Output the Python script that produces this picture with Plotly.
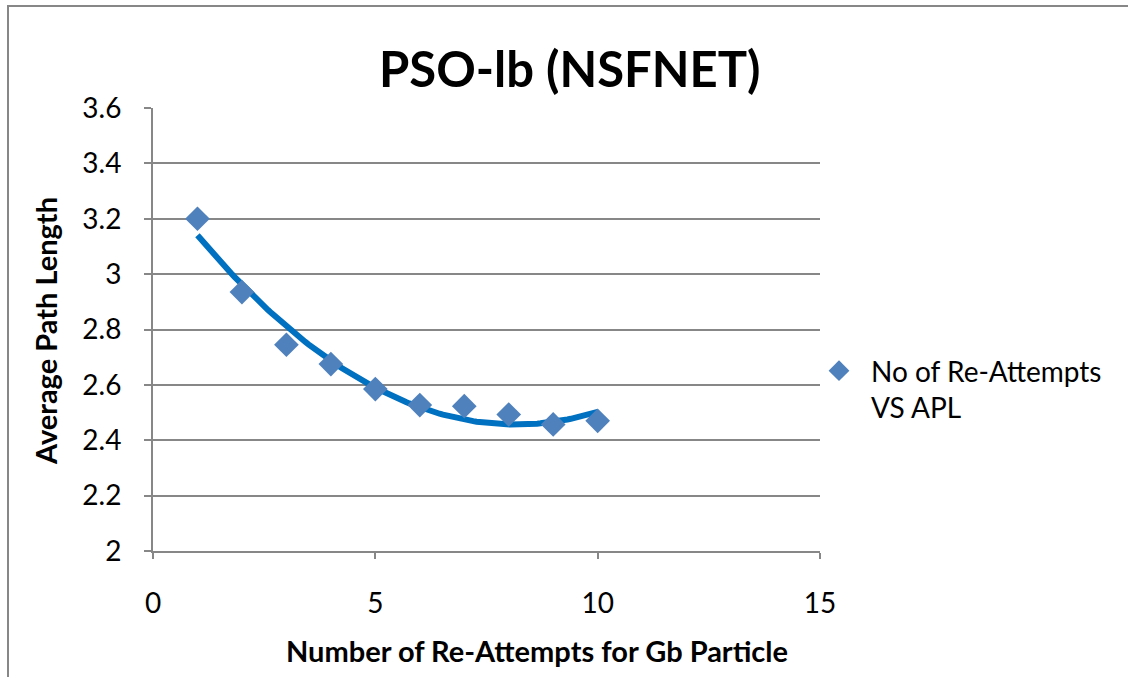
import numpy as np
import plotly.graph_objects as go

# Number of re-attempts for the Gb particle vs average path length
attempts = [1, 2, 3, 4, 5, 6, 7, 8, 9, 10]
avg_path_length = [3.20, 2.935, 2.745, 2.675, 2.585, 2.527, 2.523, 2.493, 2.457, 2.470]

series_name = "No of Re-Attempts<br>VS APL"
chart_title = "PSO-lb (NSFNET)"
x_title = "Number of Re-Attempts for Gb Particle"
y_title = "Average Path Length"

x_ticks = [0, 5, 10, 15]
y_ticks = [2, 2.2, 2.4, 2.6, 2.8, 3, 3.2, 3.4, 3.6]

# second-order polynomial trendline through the measured points
coef = np.polyfit(attempts, avg_path_length, 2)
trend_x = np.linspace(attempts[0], attempts[-1], 120)
trend_y = np.polyval(coef, trend_x)

FONT = "Lato"
GRID = "#878787"
W, H = 1128, 677
L, R, T, B = 153, 820, 108, 551  # plot-area pixel edges


def px(x):
    return (x - L) / (R - L)


def py(y):
    return (B - y) / (B - T)


fig = go.Figure()
fig.add_trace(go.Scatter(
    x=trend_x, y=trend_y, mode="lines",
    line=dict(color="#0070C0", width=6),
    showlegend=False, hoverinfo="skip",
))
fig.add_trace(go.Scatter(
    x=attempts, y=avg_path_length, mode="markers", name=series_name,
    marker=dict(symbol="diamond", size=19, color="#4F81BD"),
))

fig.update_layout(
    width=W, height=H,
    margin=dict(l=L, r=W - R, t=T, b=H - B),
    paper_bgcolor="white", plot_bgcolor="white",
    font=dict(family=FONT, color="black", size=28),
    showlegend=True,
    legend=dict(
        x=px(807), y=py(346), xanchor="left", yanchor="top",
        font=dict(size=28, family=FONT), bgcolor="rgba(0,0,0,0)",
        itemwidth=54, valign="top",
    ),
    xaxis=dict(
        range=[0, 15], tickvals=x_ticks, showgrid=False, zeroline=False,
        showline=True, linecolor=GRID, linewidth=2,
        ticks="outside", ticklen=6, tickwidth=2, tickcolor=GRID,
        ticklabelstandoff=20, tickfont=dict(size=28),
    ),
    yaxis=dict(
        range=[2, 3.6], tickvals=y_ticks, showgrid=True, gridcolor=GRID,
        gridwidth=2, zeroline=False,
        showline=True, linecolor=GRID, linewidth=2,
        ticks="outside", ticklen=7, tickwidth=2, tickcolor=GRID,
        ticklabelstandoff=17, tickfont=dict(size=28),
    ),
    annotations=[
        dict(text="<b>" + chart_title + "</b>", x=px(570), y=py(68),
             xref="paper", yref="paper", showarrow=False,
             xanchor="center", yanchor="middle",
             font=dict(size=49, family=FONT)),
        dict(text="<b>" + x_title + "</b>", x=px(537), y=py(650),
             xref="paper", yref="paper", showarrow=False,
             xanchor="center", yanchor="middle",
             font=dict(size=29, family=FONT)),
        dict(text="<b>" + y_title + "</b>", x=px(45), y=py(331),
             xref="paper", yref="paper", showarrow=False, textangle=-90,
             xanchor="center", yanchor="middle",
             font=dict(size=29, family=FONT)),
    ],
    shapes=[
        dict(type="rect", xref="paper", yref="paper",
             x0=px(8), y0=py(690), x1=px(1140), y1=py(6),
             line=dict(color=GRID, width=2), fillcolor="rgba(0,0,0,0)",
             layer="below"),
    ],
)

fig.write_html("out.html")
